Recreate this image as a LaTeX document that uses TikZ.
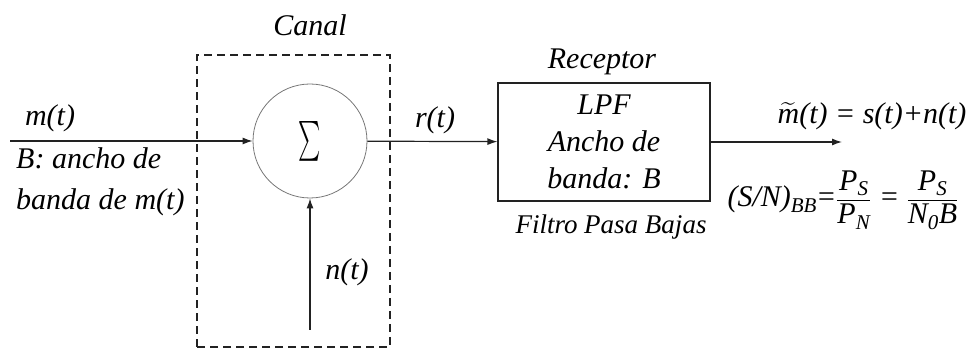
\documentclass[tikz,border=0pt]{standalone}
\usepackage{amsmath}
\usepackage{graphicx}
\usepackage{fontspec}
\setmainfont{Liberation Serif}
\usetikzlibrary{positioning,arrows.meta}
\definecolor{lineGray}{HTML}{222222}
\definecolor{sumGray}{HTML}{777777}
\newcommand{\itx}[1]{\text{\itshape #1}}
\tikzset{
  sigLabel/.style={font=\fontsize{30}{36}\selectfont\itshape, inner sep=0pt},
  smallLabel/.style={font=\fontsize{27}{32}\selectfont\itshape, inner sep=0pt},
  sumNode/.style={draw=sumGray, circle, line width=0.8pt, minimum size=114pt, inner sep=0pt},
  lpfBox/.style={draw=lineGray, line width=1.2pt, minimum width=212pt, minimum height=118pt, align=center,
    font=\fontsize{30}{37}\selectfont\itshape},
  channelBox/.style={draw=lineGray, line width=1.2pt, dash pattern=on 8pt off 5pt},
  arrow/.style={-{Latex[length=10pt,width=7pt]}, line width=1.2pt, draw=lineGray}
}
\begin{document}
\begin{tikzpicture}[x=1pt, y=1pt]
  \useasboundingbox (0,0) rectangle (971,350);
  \node[sumNode] (sum) at (310,209) {\fontsize{40}{40}\selectfont\scalebox{0.85}[1.6]{$\sum$}};
  \node[lpfBox] (lpf) at (604,208) {LPF\\Ancho de\\banda: B};
  \coordinate (inStart) at (10,209);
  \coordinate (noiseStart) at (310,20);
  \coordinate (outEnd) at (842,208);
  \draw[channelBox] (197,3) rectangle (390,295);
  \node[sigLabel] (canal) at (310,325) {Canal};
  \node[sigLabel] (receptor) at (602,288) {Receptor};
  \node[smallLabel] (filtro) at (611,123) {Filtro Pasa Bajas};
  \draw[arrow] (inStart) -- (sum);
  \draw[arrow] (noiseStart) -- (sum);
  \draw[arrow] (sum) -- (lpf);
  \draw[arrow] (lpf.east |- outEnd) -- (outEnd);
  \node[sigLabel] (mIn) at (50,232) {m(t)};
  \node[sigLabel, anchor=west, align=left, font=\fontsize{30}{41}\selectfont\itshape] (bw) at (16,168)
    {B: ancho de\\banda de m(t)};
  \node[sigLabel] (nIn) at (347,78) {n(t)};
  \node[sigLabel] (rOut) at (435,230) {r(t)};
  \node[sigLabel] (mOut) at (872,234) {$\widetilde{\itx{m}}$(t) = s(t)+n(t)};
  \node[sigLabel] (snr) at (843,150)
    {(S/N)$_{\itx{BB}}$\hspace{-1pt}=$\dfrac{\itx{P}_{\itx{S}}}{\itx{P}_{\itx{N}}}$ = $\dfrac{\itx{P}_{\itx{S}}}{\itx{N}_{\itx{0}}\itx{B}}$};
\end{tikzpicture}
\end{document}
